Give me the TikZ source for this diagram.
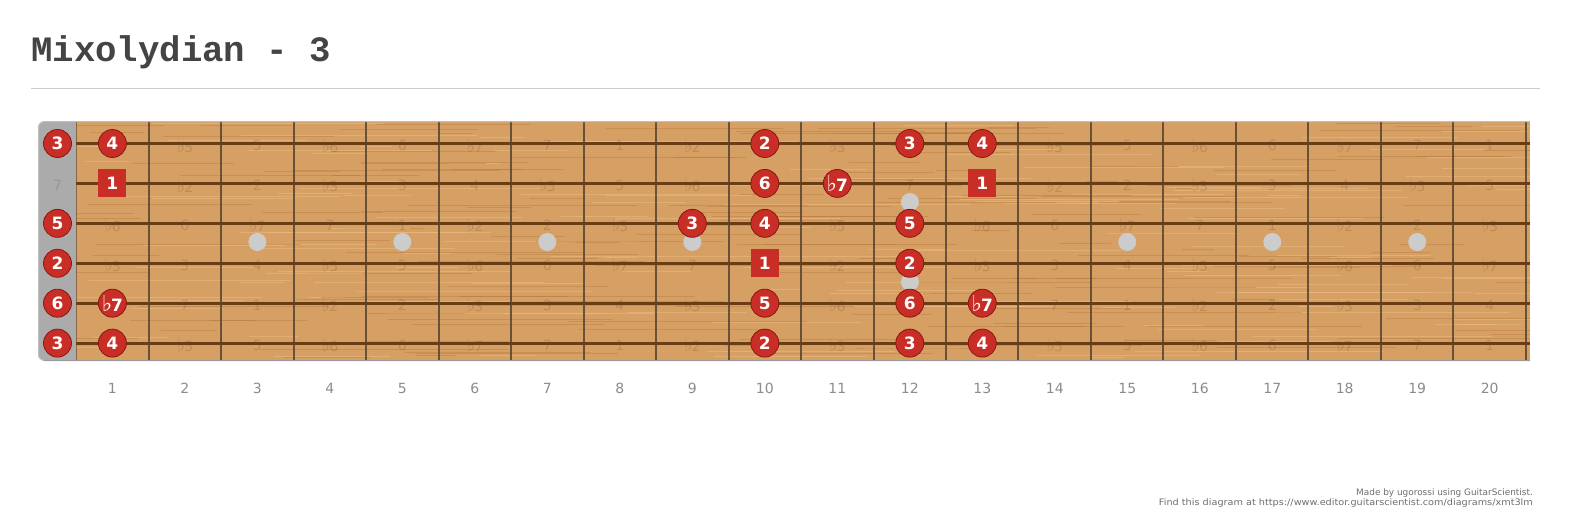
\documentclass[tikz,border=0pt]{standalone}
\usepackage{fontspec}
\setmainfont{DejaVu Sans}
\newfontfamily\titlefont{Liberation Mono}
\definecolor{wood}{RGB}{214,160,100}
\definecolor{graindark}{RGB}{180,115,55}
\definecolor{grainlight}{RGB}{236,190,135}
\definecolor{nutgray}{RGB}{171,171,171}
\definecolor{strcol}{RGB}{105,62,20}
\definecolor{fretcol}{RGB}{85,68,50}
\definecolor{mred}{RGB}{200,45,38}
\definecolor{mredd}{RGB}{140,22,18}
\definecolor{fnum}{RGB}{140,140,140}
\definecolor{inlay}{RGB}{204,204,204}
\definecolor{titlecol}{RGB}{68,68,68}
\definecolor{rulecol}{RGB}{204,204,204}
\definecolor{footcol}{RGB}{110,110,110}
\newcommand\fl{\raisebox{0pt}{\scalebox{1.3}{♭}}\kern-0.06em}
\newcommand\ivl[1]{\ifcase#1 1\or \fl2\or 2\or \fl3\or 3\or 4\or \fl5\or 5\or \fl6\or 6\or \fl7\or 7\fi}
\newcommand\marklist{0/0/3,0/1/4,0/10/2,0/12/3,0/13/4,
  1/10/6,1/11/\fl7,
  2/0/5,2/9/3,2/10/4,2/12/5,
  3/0/2,3/12/2,
  4/0/6,4/1/\fl7,4/10/5,4/12/6,4/13/\fl7,
  5/0/3,5/1/4,5/10/2,5/12/3,5/13/4}
\newcommand\rootlist{1/1,1/13,3/10}
\tikzset{
  notemark/.style={circle, fill=mred, draw=mredd, line width=0.8pt, minimum size=28pt, inner sep=0pt,
    text=white, font=\bfseries\fontsize{17}{17}\selectfont},
  rootmark/.style={rectangle, fill=mred, minimum size=28pt, inner sep=0pt,
    text=white, font=\bfseries\fontsize{17}{17}\selectfont},
  ghost/.style={text=black, text opacity=0.12, font=\fontsize{14}{14}\selectfont, inner sep=0pt},
  fretnum/.style={text=fnum, font=\fontsize{14}{14}\selectfont, inner sep=0pt},
  inlaydot/.style={circle, fill=inlay, minimum size=18pt, inner sep=0pt},
  stringline/.style={draw=strcol, line width=3pt},
  fretline/.style={draw=fretcol, line width=2pt, opacity=0.85},
}
\begin{document}
\begin{tikzpicture}[x=1pt,y=-1pt]
\useasboundingbox[fill=white] (0,0) rectangle (1573,519);
% register marked positions
\foreach \s/\f/\l in \marklist { \expandafter\gdef\csname mk\s-\f\endcsname{1} }
\foreach \s/\f in \rootlist { \expandafter\gdef\csname mk\s-\f\endcsname{1} }
% title
\node[anchor=base west, inner sep=0pt, text=titlecol, font=\titlefont\bfseries\fontsize{35.7}{36}\selectfont] (title) at (31,62) {Mixolydian - 3};
\draw[rulecol, line width=1pt] (31,88) -- (1540,88);
% board
\fill[nutgray, rounded corners=6pt] (38,122) rectangle (90,360);
\fill[wood] (76,122) rectangle (1530,360);
\begin{scope}
\clip (76,122) rectangle (1530,360);
\pgfmathsetseed{11}
\foreach \i in {1,...,300} {
  \pgfmathsetmacro\gy{123+rnd*236}
  \pgfmathsetmacro\gx{60+rnd*1460}
  \pgfmathsetmacro\gl{30+rnd*220}
  \pgfmathsetmacro\gc{rnd}
  \ifdim\gc pt<0.5pt
    \draw[graindark, line width=0.7pt, opacity=0.4] (\gx,\gy) -- ++(\gl,0);
  \else
    \draw[grainlight, line width=0.9pt, opacity=0.5] (\gx,\gy) -- ++(\gl,0);
  \fi
}
\end{scope}
% nut separators
\foreach \k in {0,...,4} {
  \pgfmathsetmacro\yy{143.5+(\k+0.5)*39.92}
  \draw[wood!70!nutgray, line width=0.6pt] (39,\yy) -- (76,\yy);
}
% faint interval labels
\foreach \s/\b in {0/4,1/11,2/7,3/2,4/9,5/4} {
  \foreach \f in {0,...,20} {
    \ifcsname mk\s-\f\endcsname\else
    \pgfmathsetmacro\xx{ifthenelse(\f==0,57.5,112.4+(\f-1)*72.49)}
    \pgfmathsetmacro\yy{143.5+\s*39.92+2}
    \pgfmathtruncatemacro\n{mod(\b+\f,12)}
    \node[ghost] (g-\s-\f) at (\xx,\yy) {\ivl{\n}};
    \fi
  }
}
% frets
\foreach \k in {1,...,20} {
  \pgfmathsetmacro\xx{148.6+(\k-1)*72.49}
  \draw[fretline] (\xx,122) -- (\xx,360);
}
\draw[fretcol, line width=1.5pt, opacity=0.6] (76.5,122) -- (76.5,360);
% strings
\foreach \s in {0,...,5} {
  \pgfmathsetmacro\yy{143.5+\s*39.92}
  \draw[stringline] (76,\yy) -- (1530,\yy);
}
% board edges
\draw[black!25, line width=1pt, rounded corners=6pt] (1530,121.5) -- (38.5,121.5) -- (38.5,360.5) -- (1530,360.5);
\draw[black!40, line width=1.5pt] (44,360.5) -- (1530,360.5);
% inlays
\foreach \f in {3,5,7,9,15,17,19} {
  \pgfmathsetmacro\xx{112.4+(\f-1)*72.49}
  \node[inlaydot] (dot-\f) at (\xx,242) {};
}
\node[inlaydot] (dot-12a) at (909.9,202) {};
\node[inlaydot] (dot-12b) at (909.9,282) {};
% markers
\foreach \s/\f/\l in \marklist {
  \pgfmathsetmacro\xx{ifthenelse(\f==0,57.5,112.4+(\f-1)*72.49)}
  \pgfmathsetmacro\yy{143.5+\s*39.92}
  \node[notemark] (m-\s-\f) at (\xx,\yy) {\l};
}
\foreach \s/\f in \rootlist {
  \pgfmathsetmacro\xx{112.4+(\f-1)*72.49}
  \pgfmathsetmacro\yy{143.5+\s*39.92}
  \node[rootmark] (r-\s-\f) at (\xx,\yy) {1};
}
% fret numbers
\foreach \f in {1,...,20} {
  \pgfmathsetmacro\xx{112.4+(\f-1)*72.49}
  \node[fretnum] (n-\f) at (\xx,388) {\f};
}
% footer
\node[anchor=east, inner sep=0pt, text=footcol, font=\fontsize{8.9}{9}\selectfont] (foot1) at (1533,493.5) {Made by ugorossi using GuitarScientist.};
\node[anchor=east, inner sep=0pt, text=footcol, font=\fontsize{8.9}{9}\selectfont] (foot2) at (1533,503.5) {\scalebox{1.09}[1]{Find this diagram at https://www.editor.guitarscientist.com/diagrams/xmt3lm}};
\end{tikzpicture}
\end{document}
